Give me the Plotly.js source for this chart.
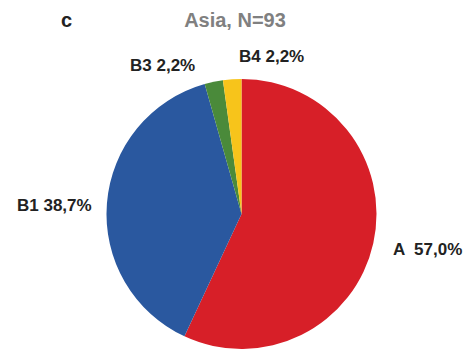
<!DOCTYPE html>
<html>
<head>
<meta charset="utf-8">
<script src="https://cdn.plot.ly/plotly-3.0.1.min.js"></script>
<style>html,body{margin:0;padding:0;background:#fff;}#chart{width:463px;height:353px;}</style>
</head>
<body>
<div id="chart"></div>
<script>
const categories = ["A", "B1", "B3", "B4"];
const values = [57.0, 38.7, 2.2, 2.2];
const valueLabels = ["57,0%", "38,7%", "2,2%", "2,2%"];
const colors = ["#d71f28", "#2a589f", "#4a8a3a", "#f7c41b"];
const labelSep = ["  ", " ", " ", " "];
const labelPos = [[427, 250], [54, 205], [162, 66], [271, 57]];

const W = 463, H = 353;
const annotations = categories.map((c, i) => ({
  text: "<b>" + c + labelSep[i] + valueLabels[i] + "</b>",
  xref: "paper", yref: "paper",
  x: labelPos[i][0] / W, y: 1 - labelPos[i][1] / H,
  xanchor: "center", yanchor: "middle",
  showarrow: false,
  font: {family: "Liberation Sans, Arial, sans-serif", size: 17, color: "#222"}
}));
annotations.push({
  text: "<b>c</b>", xref: "paper", yref: "paper",
  x: 66 / W, y: 1 - 20 / H, xanchor: "center", yanchor: "middle",
  showarrow: false,
  font: {family: "Liberation Sans, Arial, sans-serif", size: 20, color: "#222"}
});

const data = [{
  type: "pie",
  labels: categories,
  values: values,
  sort: false,
  direction: "clockwise",
  rotation: 0,
  textinfo: "none",
  hoverinfo: "label+percent",
  marker: {colors: colors, line: {width: 0}},
  domain: {x: [105 / W, 378 / W], y: [1 - 349 / H, 1 - 79 / H]},
  showlegend: false
}];

const layout = {
  width: W, height: H,
  margin: {l: 0, r: 0, t: 0, b: 0},
  paper_bgcolor: "#fff",
  title: {
    text: "<b>Asia, N=93</b>",
    x: 235 / W, xanchor: "center",
    y: 1 - 20 / H, yanchor: "middle",
    font: {family: "Liberation Sans, Arial, sans-serif", size: 20, color: "#808080"}
  },
  annotations: annotations
};

Plotly.newPlot("chart", data, layout, {displayModeBar: false, staticPlot: true});
</script>
</body>
</html>
